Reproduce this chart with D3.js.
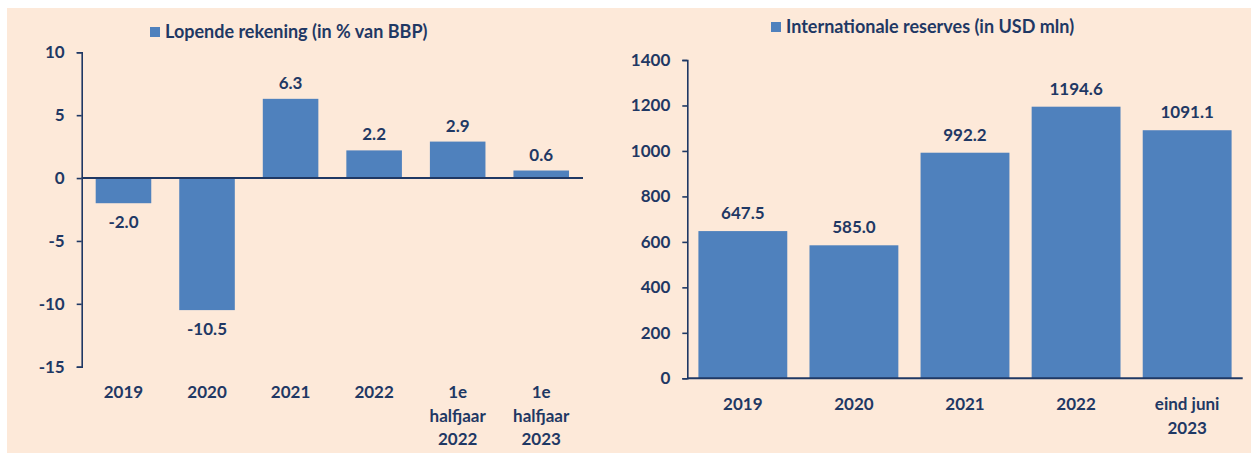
<!DOCTYPE html>
<html>
<head>
<meta charset="utf-8">
<script src="https://cdn.jsdelivr.net/npm/d3@7"></script>
<style>
  html, body { margin: 0; padding: 0; background: #ffffff; }
  svg { display: block; font-family: Lato, "Open Sans", sans-serif; font-weight: 700; }
</style>
</head>
<body>
<svg id="chart" width="1256" height="453"></svg>
<script>
// Lopende rekening (in % van BBP)
const accountCategories = ["2019", "2020", "2021", "2022", "1e halfjaar 2022", "1e halfjaar 2023"];
const accountLabelLines = [["2019"], ["2020"], ["2021"], ["2022"], ["1e", "halfjaar", "2022"], ["1e", "halfjaar", "2023"]];
const accountValues = [-2.0, -10.5, 6.3, 2.2, 2.9, 0.6];
const accountTicks = [10, 5, 0, -5, -10, -15];

// Internationale reserves (in USD mln)
const reserveCategories = ["2019", "2020", "2021", "2022", "eind juni 2023"];
const reserveLabelLines = [["2019"], ["2020"], ["2021"], ["2022"], ["eind juni", "2023"]];
const reserveValues = [647.5, 585.0, 992.2, 1194.6, 1091.1];
const reserveTicks = [0, 200, 400, 600, 800, 1000, 1200, 1400];

const navy = "#1f3864";
const barColor = "#4f81bd";
const panelColor = "#fde9d9";
const labelSize = "17px";

// plain hyphen for negatives, no thousands separator
const fmtTick = d => String(d).replace("\u2212", "-");
const fmtValue = d => d.toFixed(1);

const svg = d3.select("#chart");

svg.append("rect")
  .attr("x", 7).attr("y", 8)
  .attr("width", 1244).attr("height", 445)
  .attr("fill", panelColor);

function drawPanel(opts) {
  const g = svg.append("g");
  const x = d3.scaleBand()
    .domain(opts.categories)
    .range([opts.left, opts.right])
    .paddingInner(opts.padding)
    .paddingOuter(opts.padding / 2);
  const y = d3.scaleLinear()
    .domain(opts.domain)
    .range([opts.bottom, opts.top]);

  // bars
  g.selectAll("rect.bar")
    .data(opts.values)
    .join("rect")
    .attr("class", "bar")
    .attr("x", (d, i) => x(opts.categories[i]))
    .attr("width", x.bandwidth())
    .attr("y", d => y(Math.max(0, d)))
    .attr("height", d => Math.abs(y(d) - y(0)))
    .attr("fill", barColor);

  // y axis
  const yAxis = g.append("g")
    .attr("transform", `translate(${opts.left},0)`)
    .call(d3.axisLeft(y).tickValues(opts.ticks).tickFormat(fmtTick).tickSize(5).tickPadding(12));
  yAxis.select(".domain").attr("stroke", navy).attr("stroke-width", 1.6);
  yAxis.selectAll(".tick line").attr("stroke", navy).attr("stroke-width", 1.6);
  yAxis.selectAll(".tick text")
    .attr("fill", navy)
    .style("font-family", "Lato, sans-serif")
    .style("font-weight", 700)
    .style("font-size", labelSize);

  // category axis line at zero
  g.append("line")
    .attr("x1", opts.left).attr("x2", opts.right)
    .attr("y1", y(0)).attr("y2", y(0))
    .attr("stroke", navy).attr("stroke-width", 2);

  // value labels
  g.selectAll("text.value")
    .data(opts.values)
    .join("text")
    .attr("class", "value")
    .attr("x", (d, i) => x(opts.categories[i]) + x.bandwidth() / 2)
    .attr("y", d => d >= 0 ? y(d) - opts.labelGap : y(d) + 25)
    .attr("text-anchor", "middle")
    .attr("fill", navy)
    .style("font-size", labelSize)
    .text(fmtValue);

  // category labels
  const cat = g.selectAll("text.cat")
    .data(opts.labelLines)
    .join("text")
    .attr("class", "cat")
    .attr("x", (d, i) => x(opts.categories[i]) + x.bandwidth() / 2)
    .attr("y", opts.catBaseline)
    .attr("text-anchor", "middle")
    .attr("fill", navy)
    .style("font-size", labelSize);
  cat.selectAll("tspan")
    .data((d, i) => d.map(t => ({ t, cx: x(opts.categories[i]) + x.bandwidth() / 2 })))
    .join("tspan")
    .attr("x", d => d.cx)
    .attr("dy", (d, j) => j === 0 ? 0 : 23.5)
    .text(d => d.t);

  // legend-style title
  const t = g.append("g").attr("transform", `translate(${opts.titleX},${opts.titleY})`);
  t.append("rect")
    .attr("x", 0).attr("y", -11)
    .attr("width", 10).attr("height", 10)
    .attr("fill", barColor);
  t.append("text")
    .attr("x", 15).attr("y", 0)
    .attr("fill", navy)
    .style("font-size", "18px")
    .text(opts.title);
}

drawPanel({
  categories: accountCategories,
  labelLines: accountLabelLines,
  values: accountValues,
  ticks: accountTicks,
  domain: [-15, 10],
  left: 81.7, right: 583,
  top: 52.3, bottom: 366.7,
  padding: 0.335,
  labelGap: 10,
  catBaseline: 398,
  title: "Lopende rekening (in % van BBP)",
  titleX: 150, titleY: 38
});

drawPanel({
  categories: reserveCategories,
  labelLines: reserveLabelLines,
  values: reserveValues,
  ticks: reserveTicks,
  domain: [0, 1400],
  left: 687.3, right: 1242.7,
  top: 60, bottom: 378.3,
  padding: 0.2,
  labelGap: 12,
  catBaseline: 410,
  title: "Internationale reserves (in USD mln)",
  titleX: 771, titleY: 33
});
</script>
</body>
</html>
